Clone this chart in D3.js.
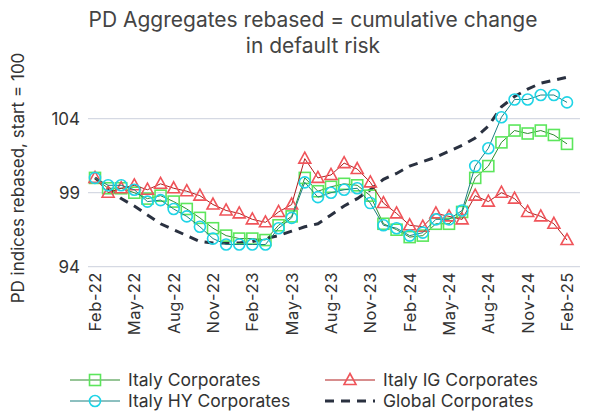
<!DOCTYPE html>
<html><head><meta charset="utf-8">
<script src="https://cdn.jsdelivr.net/npm/d3@7"></script>
<style>body{margin:0;background:#fff}svg{font-family:Inter,"Open Sans",sans-serif}</style>
</head><body><svg id="c" width="591" height="414"></svg>
<script>
const months=["Feb-22","Mar-22","Apr-22","May-22","Jun-22","Jul-22","Aug-22","Sep-22","Oct-22","Nov-22","Dec-22","Jan-23","Feb-23","Mar-23","Apr-23","May-23","Jun-23","Jul-23","Aug-23","Sep-23","Oct-23","Nov-23","Dec-23","Jan-24","Feb-24","Mar-24","Apr-24","May-24","Jun-24","Jul-24","Aug-24","Sep-24","Oct-24","Nov-24","Dec-24","Jan-25","Feb-25"];
const tickLabels=["Feb-22","May-22","Aug-22","Nov-22","Feb-23","May-23","Aug-23","Nov-23","Feb-24","May-24","Aug-24","Nov-24","Feb-25"];
const yTicks=[94,99,104];
const italyCorp=[100.0,99.3,99.3,99.0,98.6,98.8,98.4,97.9,97.3,96.6,96.1,95.9,95.9,95.8,96.8,97.4,100.0,99.1,99.4,99.6,99.5,98.8,96.9,96.5,96.0,96.1,96.9,96.9,97.7,100.0,100.8,102.4,103.2,103.0,103.2,102.9,102.3];
const italyIG=[100.0,99.0,99.3,99.5,99.2,99.6,99.3,99.1,98.8,98.2,97.8,97.6,97.2,97.0,97.7,98.2,101.3,100.0,100.2,101.0,100.6,99.7,98.3,97.6,96.8,96.7,97.6,97.4,97.2,98.8,98.4,99.0,98.6,97.7,97.4,96.9,95.8];
const italyHY=[100.0,99.5,99.5,99.2,98.4,98.5,97.9,97.4,96.7,95.9,95.5,95.5,95.5,95.5,96.6,97.3,99.7,98.7,99.0,99.2,99.3,98.3,96.8,96.6,96.1,96.3,97.2,97.2,97.8,100.8,102.0,104.1,105.3,105.3,105.6,105.6,105.1];
const globalCorp=[100.0,99.3,98.6,98.1,97.5,96.9,96.5,96.1,95.7,95.6,95.6,95.6,95.7,95.9,96.1,96.4,96.7,96.9,97.5,98.1,98.6,99.2,99.9,100.3,100.8,101.1,101.4,101.8,102.2,102.7,103.5,104.8,105.5,106.0,106.4,106.6,106.8];

const svg=d3.select("#c");
const x=d3.scalePoint().domain(months).range([95,567]);
const y=d3.scaleLinear().domain([94,104]).range([266.7,118.7]);
svg.append("g").selectAll("line").data(yTicks).join("line")
 .attr("x1",88).attr("x2",580).attr("y1",d=>y(d)).attr("y2",d=>y(d))
 .attr("stroke","#d5d9e3").attr("stroke-width",1.3);
svg.append("g").selectAll("text").data(yTicks).join("text")
 .attr("x",80).attr("y",d=>y(d)+6).attr("text-anchor","end").attr("font-size",17).attr("fill","#333").text(d=>d);
svg.append("g").selectAll("text").data(tickLabels).join("text")
 .attr("transform",d=>`translate(${x(d)+6},272) rotate(-90)`).attr("text-anchor","end")
 .attr("font-size",16.5).attr("letter-spacing",0.6).attr("fill","#333").text(d=>d);
svg.append("text").attr("transform","translate(24,178) rotate(-90)").attr("text-anchor","middle")
 .attr("font-size",17).attr("fill","#333").text("PD indices rebased, start = 100");
svg.append("text").attr("x",313).attr("y",27).attr("text-anchor","middle").attr("font-size",21).attr("fill","#444").text("PD Aggregates rebased = cumulative change");
svg.append("text").attr("x",313).attr("y",53).attr("text-anchor","middle").attr("font-size",21).attr("fill","#444").text("in default risk");

const line=d3.line().x((d,i)=>x(months[i])).y(d=>y(d));
svg.append("path").datum(globalCorp).attr("d",line).attr("fill","none").attr("stroke","#2a3140").attr("stroke-width",3).attr("stroke-dasharray","9,7");
const series=[
 {data:italyCorp,line:"#2e8b2e",mark:"#5ce65c",shape:"sq"},
 {data:italyIG,line:"#b01c1c",mark:"#f0545a",shape:"tri"},
 {data:italyHY,line:"#1a8080",mark:"#1fd4e6",shape:"ci"}];
function drawMark(g,shape,col,cx,cy){
 if(shape==="sq") g.append("rect").attr("x",cx-5.5).attr("y",cy-5.5).attr("width",11).attr("height",11).attr("fill","none").attr("stroke",col).attr("stroke-width",1.6);
 else if(shape==="ci") g.append("circle").attr("cx",cx).attr("cy",cy).attr("r",5.5).attr("fill","none").attr("stroke",col).attr("stroke-width",1.6);
 else g.append("path").attr("d",`M${cx},${cy-6.5}L${cx+6},${cy+4.5}L${cx-6},${cy+4.5}Z`).attr("fill","none").attr("stroke",col).attr("stroke-width",1.6);
}
series.forEach(s=>{
 svg.append("path").datum(s.data).attr("d",line).attr("fill","none").attr("stroke",s.line).attr("stroke-width",1);
 const g=svg.append("g");
 s.data.forEach((v,i)=>drawMark(g,s.shape,s.mark,x(months[i]),y(v)));
});
const leg=[
 {name:"Italy Corporates",s:series[0],lx:70,ly:380},
 {name:"Italy IG Corporates",s:series[1],lx:325,ly:380},
 {name:"Italy HY Corporates",s:series[2],lx:70,ly:401},
 {name:"Global Corporates",s:null,lx:325,ly:401}];
leg.forEach(l=>{
 if(l.s){
  svg.append("line").attr("x1",l.lx).attr("x2",l.lx+50).attr("y1",l.ly).attr("y2",l.ly).attr("stroke",l.s.line).attr("stroke-width",1);
  drawMark(svg,l.s.shape,l.s.mark,l.lx+25,l.ly);
 } else {
  svg.append("line").attr("x1",l.lx).attr("x2",l.lx+50).attr("y1",l.ly).attr("y2",l.ly).attr("stroke","#2a3140").attr("stroke-width",3).attr("stroke-dasharray","9,7");
 }
 svg.append("text").attr("x",l.lx+58).attr("y",l.ly+6).attr("font-size",17.5).attr("fill","#333").text(l.name);
});
</script></body></html>
